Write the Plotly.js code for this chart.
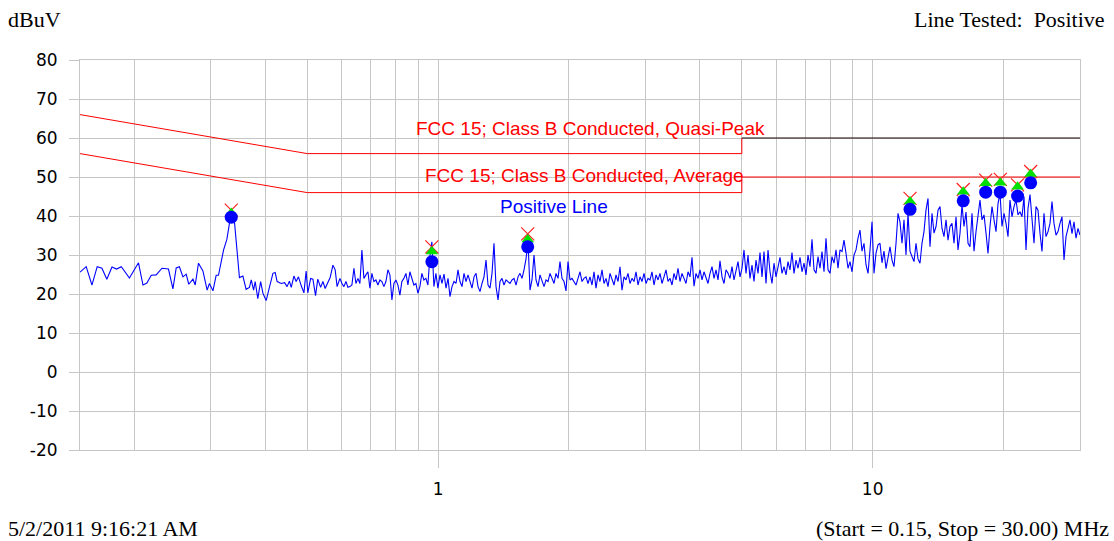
<!DOCTYPE html>
<html>
<head>
<meta charset="utf-8">
<script src="https://cdn.plot.ly/plotly-3.0.1.min.js"></script>
<style>
html,body{margin:0;padding:0;background:#fff;}
#chart{width:1114px;height:541px;}
</style>
</head>
<body>
<div id="chart"></div>
<script>
// ---- Measured trace (MHz, dBuV) ----
const freqLow = [0.1500,0.1550,0.1598,0.1643,0.1685,0.1729,0.1777,0.1821,0.1867,0.1949,0.2045,0.2094,0.2138,0.2188,0.2246,0.2316,0.2397,0.2454,0.2497,0.2540,0.2588,0.2633,0.2669,0.2729,0.2762,0.2810,0.2877,0.2942,0.2978,0.3034,0.3086,0.3124,0.3210,0.3266,0.3311,0.3346,0.3403,0.3443,0.3491,0.3556,0.3617,0.3681,0.3717,0.3763,0.3795,0.3848,0.3906,0.3954,0.4022,0.4092,0.4169,0.4219,0.4263,0.4357,0.4435,0.4494,0.4549,0.4594,0.4659,0.4715,0.4773,0.4844,0.4913,0.4971,0.5015,0.5091,0.5153,0.5225,0.5287,0.5368,0.5433,0.5498,0.5575,0.5648,0.5729,0.5798,0.5857];
const levelLow = [25.6,27.0,22.3,27.0,26.6,23.8,26.9,26.4,27.0,24.1,28.0,22.3,22.8,24.8,24.9,26.6,26.4,21.3,26.7,27.0,24.4,25.1,22.5,23.8,22.3,27.9,25.9,21.0,22.7,20.8,24.8,24.8,31.3,34.0,38.1,39.8,38.1,31.3,24.2,24.6,21.2,21.7,23.6,21.0,23.2,18.8,23.2,20.2,18.3,21.7,25.3,25.5,23.2,22.7,22.9,21.9,23.3,21.7,24.6,23.2,24.4,22.1,20.3,25.9,20.3,24.0,23.8,19.6,23.8,21.7,23.2,21.4,22.9,24.3,27.4,26.2,21.9];

const freqHigh = [
0.5945,0.6009,0.6073,0.6138,0.6203, 0.6268,0.6335,0.6403,0.6471,0.6540,
0.6609,0.6680,0.6751,0.6823,0.6896, 0.6969,0.7043,0.7119,0.7195,0.7271,
0.7348,0.7426,0.7506,0.7586,0.7667, 0.7748,0.7831,0.7914,0.7999,0.8084,
0.8169,0.8256,0.8344,0.8434,0.8524, 0.8613,0.8705,0.8798,0.8892,0.8987,
0.9082,0.9179,0.9277,0.9376,0.9476, 0.9576,0.9678,0.9782,0.9886,0.9992,
1.0103,1.0211,1.0320,1.0430,1.0542, 1.0653,1.0767,1.0882,1.0998,1.1115,
1.1233,1.1353,1.1474,1.1597,1.1720, 1.1844,1.1970,1.2098,1.2227,1.2358,
1.2488,1.2621,1.2756,1.2893,1.3030, 1.3168,1.3309,1.3450,1.3594,1.3740,
1.3884,1.4032,1.4182,1.4334,1.4487, 1.4640,1.4796,1.4954,1.5114,1.5275,
1.5436,1.5601,1.5768,1.5936,1.6106, 1.6276,1.6450,1.6626,1.6803,1.6983,
1.7162,1.7345,1.7531,1.7718,1.7907, 1.8096,1.8289,1.8485,1.8682,1.8881,
1.9080,1.9284,1.9490,1.9698,1.9908, 2.0118,2.0333,2.0550,2.0770,2.0991,
2.1213,2.1440,2.1669,2.1900,2.2134, 2.2367,2.2606,2.2848,2.3092,2.3338,
2.3584,2.3836,2.4090,2.4348,2.4608, 2.4868,2.5134,2.5402,2.5673,2.5948,
2.6221,2.6501,2.6784,2.7070,2.7359, 2.7647,2.7942,2.8241,2.8543,2.8847,
2.9152,2.9463,2.9778,3.0096,3.0417, 3.0738,3.1066,3.1398,3.1734,3.2073,
3.2410,3.2756,3.3106,3.3460,3.3817, 3.4174,3.4539,3.4908,3.5281,3.5657,
3.6033,3.6418,3.6807,3.7200,3.7597, 3.7994,3.8400,3.8810,3.9225,3.9643,
4.0061,4.0489,4.0921,4.1358,4.1800, 4.2241,4.2692,4.3148,4.3609,4.4075,
4.4539,4.5015,4.5496,4.5982,4.6473, 4.6963,4.7465,4.7972,4.8484,4.9002,
4.9518,5.0047,5.0582,5.1122,5.1668, 5.2213,5.2771,5.3334,5.3904,5.4480,
5.5054,5.5642,5.6236,5.6837,5.7444, 5.8049,5.8669,5.9296,5.9929,6.0569,
6.1208,6.1862,6.2522,6.3190,6.3865, 6.4538,6.5227,6.5924,6.6628,6.7340,
6.8050,6.8777,6.9511,7.0254,7.1004, 7.1752,7.2518,7.3293,7.4076,7.4867,
7.5657,7.6465,7.7282,7.8107,7.8941, 7.9773,8.0625,8.1486,8.2357,8.3236,
8.4114,8.5012,8.5921,8.6838,8.7766, 8.8690,8.9637,9.0595,9.1563,9.2540,
9.3516,9.4515,9.5525,9.6545,9.7576, 9.8605,9.9658,10.072,10.180,10.289,
10.397,10.508,10.620,10.734,10.848, 10.963,11.080,11.198,11.318,11.439,
11.559,11.682,11.807,11.933,12.061, 12.188,12.318,12.450,12.583,12.717,
12.851,12.988,13.127,13.267,13.409, 13.551,13.696,13.842,13.990,14.139,
14.288,14.441,14.595,14.751,14.908, 15.065,15.226,15.389,15.553,15.719,
15.885,16.055,16.226,16.400,16.575, 16.749,16.928,17.109,17.292,17.476,
17.661,17.850,18.040,18.233,18.427, 18.622,18.821,19.022,19.225,19.430,
19.635,19.845,20.057,20.271,20.487, 20.703,20.924,21.148,21.374,21.602,
21.830,22.063,22.299,22.537,22.778, 23.018,23.264,23.512,23.763,24.017,
24.270,24.529,24.791,25.056,25.324, 25.590,25.863,26.139,26.419,26.701,
26.983,27.271,27.562,27.857,28.155, 28.451,28.755,29.062,29.373,29.686,
30.0];
const levelHigh = [
24.0,22.7,21.9,23.2,21.7, 21.9,22.3,26.6,22.7,24.0,
22.7,31.3,24.0,24.9,25.7, 21.5,25.3,23.2,23.6,22.3,
23.6,23.2,21.9,23.2,26.2, 24.9,18.5,22.7,23.6,22.3,
19.7,23.2,24.0,25.3,22.3, 25.7,23.6,22.3,22.7,20.2,
21.9,25.3,23.6,24.0,22.3, 29.6,33.4,21.9,25.3,21.5,
24.9,22.7,25.1,21.5,24.0, 19.3,21.9,23.2,22.7,26.2,
23.2,21.9,25.3,23.2,24.9, 23.2,21.5,24.4,25.3,21.9,
20.6,22.7,24.4,28.7,22.3, 21.5,25.3,33.0,21.9,18.5,
23.2,24.0,22.3,23.6,23.2, 22.7,23.6,24.0,22.3,24.4,
25.3,24.0,26.2,29.0,33.5, 21.0,23.6,30.0,23.6,21.9,
24.9,23.6,21.9,23.6,23.2, 25.3,24.0,22.7,25.3,24.0,
28.3,24.0,23.2,20.8,28.3, 23.6,24.0,23.2,22.3,24.0,
25.7,23.2,24.0,24.4,22.7, 24.4,22.3,25.7,21.5,24.9,
23.2,26.2,22.7,24.0,21.9, 25.3,23.6,22.3,24.9,23.2,
27.0,21.0,24.4,23.6,25.3, 22.7,24.0,23.2,25.7,22.3,
24.4,23.2,25.3,22.7,24.0, 23.6,25.7,22.3,24.9,23.6,
25.3,22.7,24.4,26.2,23.2, 24.0,22.3,25.3,23.6,26.6,
23.2,25.3,24.0,22.7,25.7, 24.4,29.4,22.0,25.3,24.0,
26.2,23.6,25.7,24.4,22.7, 25.3,27.0,24.0,26.2,23.6,
28.5,24.4,22.7,26.2,25.3, 24.0,27.0,23.6,25.7,28.3,
24.4,26.6,31.3,25.3,30.0, 24.0,27.4,23.2,28.7,25.3,
30.6,24.4,30.9,22.7,31.3, 25.7,22.7,27.9,24.4,26.6,
29.4,25.3,27.0,24.9,28.3, 26.2,30.6,25.3,28.7,26.6,
29.4,25.7,27.9,24.9,30.0, 27.0,34.0,26.2,25.3,29.6,
26.6,30.9,25.7,34.3,26.2, 25.3,29.6,27.9,31.3,26.6,
31.3,30.9,33.8,30.4,26.6, 28.3,25.7,30.0,31.3,34.3,
36.4,31.0,33.0,27.5,25.3, 31.3,38.5,25.3,30.5,32.6,
33.0,28.0,31.0,26.5,29.6, 32.1,28.7,27.0,33.0,40.7,
38.5,33.0,39.0,30.0,40.7, 31.0,29.6,28.3,33.0,29.0,
27.9,33.0,36.0,41.5,44.5, 32.1,40.7,35.6,37.3,41.5,
42.4,36.8,34.7,39.0,33.8, 37.3,38.1,33.0,39.8,31.3,
35.6,42.8,37.3,41.0,33.0, 32.1,40.7,31.0,36.0,40.7,
44.1,39.0,40.3,35.6,30.4, 37.3,42.4,39.0,36.0,43.2,
45.8,37.3,40.7,38.1,34.7, 44.1,39.8,42.4,44.1,40.3,
41.1,39.8,45.0,31.3,42.0, 45.5,39.0,33.0,42.4,41.5,
35.6,30.9,40.7,34.7,36.0, 38.1,43.7,38.1,35.1,36.0,
38.1,39.8,28.7,34.7,36.8, 39.0,35.5,38.5,34.3,36.8,
35.1];

// ---- Limits (FCC 15 Class B conducted) ----
const qpFreq  = [0.15, 0.5, 5, 5];
const qpLevel = [66, 56, 56, 60];
const qpHiFreq  = [5, 30];
const qpHiLevel = [60, 60];
const avFreq  = [0.15, 0.5, 5, 5, 30];
const avLevel = [56, 46, 46, 50, 50];

// ---- Peak markers ----
const peakFreq   = [0.3343, 0.9678, 1.608, 12.19, 16.16, 18.20, 19.67, 21.55, 23.10];
const peakDot    = [39.7, 28.3, 32.1, 41.7, 43.9, 46.1, 46.1, 45.1, 48.5];
const peakTri    = [40.8, 30.9, 34.0, 43.7, 46.2, 48.4, 48.5, 47.5, 50.8];
const peakCross  = [41.5, 32.1, 35.4, 44.5, 46.8, 49.2, 49.4, 48.0, 51.4];
const flagFreq   = [19.67, 21.55];
const flagLevel  = [49.4, 48.0];

// ---- Axes ----
const yTicks = [-20,-10,0,10,20,30,40,50,60,70,80];
const yTickText = ['-20','-10','0','10','20','30','40','50','60','70','80'];
const xMajor = [1, 10];
const xMajorText = ['1', '10'];
const xMinor = [0.2,0.3,0.4,0.5,0.6,0.7,0.8,0.9,2,3,4,5,6,7,8,9,20,30];

const freq = freqLow.concat(freqHigh);
const level = levelLow.concat(levelHigh);

const gridC = '#c6c6c6';
const traces = [
  {x: qpFreq, y: qpLevel, mode: 'lines', line: {color: '#ff0000', width: 1}, hoverinfo: 'skip'},
  {x: qpHiFreq, y: qpHiLevel, mode: 'lines', line: {color: '#1a0000', width: 1}, hoverinfo: 'skip'},
  {x: avFreq, y: avLevel, mode: 'lines', line: {color: '#ff0000', width: 1}, hoverinfo: 'skip'},
  {x: freq, y: level, mode: 'lines', line: {color: '#0000ff', width: 1.1}, hoverinfo: 'skip'},
  {x: peakFreq, y: peakCross, mode: 'markers', marker: {symbol: 'x-thin', size: 13, line: {color: '#ff2020', width: 1.2}}},
  {x: peakFreq, y: peakTri, mode: 'markers', marker: {symbol: 'triangle-up', size: 11, color: '#00e000', line: {width: 0}}},
  {x: peakFreq, y: peakDot, mode: 'markers', marker: {symbol: 'circle', size: 13, color: '#0000ff', line: {width: 0}}},
  {x: flagFreq, y: flagLevel, mode: 'markers', marker: {symbol: 'x-open', size: 10, color: 'rgba(0,0,0,0)', line: {color: '#ff40ff', width: 1}}}
];

const serif = {family: 'Liberation Serif, Times New Roman, serif', size: 22, color: '#000'};
const sans = {family: 'Liberation Sans, Arial, sans-serif', size: 19};

const layout = {
  width: 1114, height: 541,
  margin: {l: 80, r: 34, t: 60, b: 91, pad: 0},
  paper_bgcolor: '#fff', plot_bgcolor: '#fff',
  showlegend: false,
  hovermode: false,
  xaxis: {
    type: 'log',
    range: [Math.log10(0.15), Math.log10(30)],
    tickvals: xMajor, ticktext: xMajorText,
    ticks: 'outside', ticklen: 17, tickcolor: gridC, tickwidth: 1,
    ticklabelstandoff: 7,
    showgrid: true, gridcolor: gridC, gridwidth: 1,
    minor: {tickvals: xMinor, showgrid: true, gridcolor: gridC, gridwidth: 1, ticks: ''},
    showline: true, linecolor: gridC, linewidth: 1, mirror: true,
    zeroline: false,
    tickfont: {family: 'DejaVu Sans, sans-serif', size: 17, color: '#000'},
    fixedrange: true
  },
  yaxis: {
    range: [-20, 80],
    tickvals: yTicks, ticktext: yTickText,
    ticks: 'outside', ticklen: 10, tickcolor: gridC, tickwidth: 1,
    ticklabelstandoff: 8,
    showgrid: true, gridcolor: gridC, gridwidth: 1,
    showline: true, linecolor: gridC, linewidth: 1, mirror: true,
    zeroline: false,
    tickfont: {family: 'DejaVu Sans, sans-serif', size: 17, color: '#000'},
    fixedrange: true
  },
  annotations: [
    {text: 'FCC 15; Class B Conducted, Quasi-Peak', xref: 'paper', yref: 'paper', x: 0.51, y: 0.8256, xanchor: 'center', yanchor: 'middle', showarrow: false, font: Object.assign({color: '#ff0000'}, sans)},
    {text: 'FCC 15; Class B Conducted, Average', xref: 'paper', yref: 'paper', x: 0.504, y: 0.705, xanchor: 'center', yanchor: 'middle', showarrow: false, font: Object.assign({color: '#ff0000'}, sans)},
    {text: 'Positive Line', xref: 'paper', yref: 'paper', x: 0.474, y: 0.6256, xanchor: 'center', yanchor: 'middle', showarrow: false, font: Object.assign({color: '#0000ff'}, sans)},
    {text: 'dBuV', xref: 'paper', yref: 'paper', x: -0.074, y: 1.1026, xanchor: 'left', yanchor: 'middle', showarrow: false, font: serif},
    {text: 'Line Tested:\u00a0\u00a0Positive', xref: 'paper', yref: 'paper', x: 1.027, y: 1.1026, xanchor: 'right', yanchor: 'middle', showarrow: false, font: serif},
    {text: '5/2/2011 9:16:21 AM', xref: 'paper', yref: 'paper', x: -0.074, y: -0.2, xanchor: 'left', yanchor: 'middle', showarrow: false, font: serif},
    {text: '(Start = 0.15, Stop = 30.00) MHz', xref: 'paper', yref: 'paper', x: 1.031, y: -0.2, xanchor: 'right', yanchor: 'middle', showarrow: false, font: serif}
  ]
};

Plotly.newPlot('chart', traces, layout, {displayModeBar: false, staticPlot: true});
</script>
</body>
</html>
